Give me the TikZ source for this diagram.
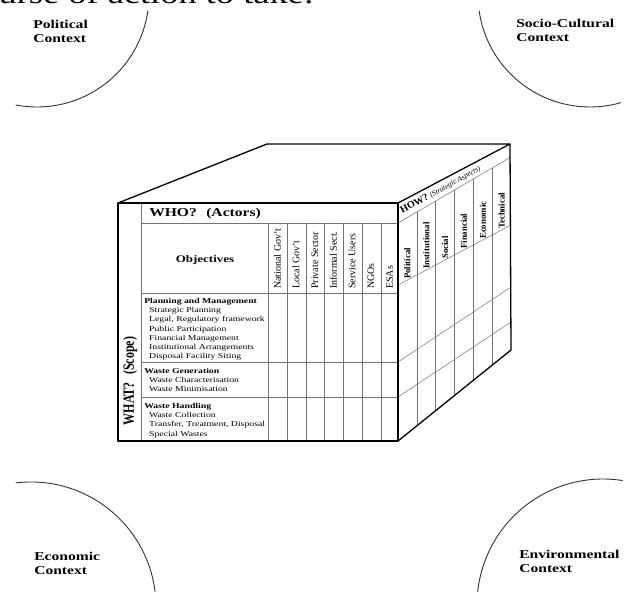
\documentclass[tikz,border=0pt]{standalone}
\usepackage{fontspec}
\setmainfont{Liberation Serif}
\usetikzlibrary{calc}

\begin{document}
\begin{tikzpicture}[x=1pt,y=1pt,line join=round,
  edge/.style={line width=1.3pt},
  grid/.style={line width=0.5pt,black!55},
  ctx/.style={font=\fontsize{12}{13.5}\selectfont\bfseries,align=left,anchor=north west,inner sep=0pt,xscale=1.3},
  actor/.style={font=\fontsize{10}{11}\selectfont,rotate=90,anchor=west,inner sep=0pt},
  aspect/.style={font=\fontsize{8.8}{9}\selectfont\bfseries,rotate=90,anchor=west,inner sep=0pt},
  scope/.style={font=\fontsize{7.5}{9.2}\selectfont,align=left,anchor=north west,inner sep=0pt,xscale=1.3}]
\useasboundingbox (0,0) rectangle (627,592);
\clip (0,0) rectangle (627,592);
%% cut-off line of the page above
\node[font=\fontsize{28}{30}\selectfont,anchor=base west,inner sep=0pt,xscale=1.3] (course) at (-36,588) {course of action to take:};
%% context arcs
\draw[line width=0.9pt,black!80] (37,597) ++(-8:112) arc[start angle=-8,end angle=-101,radius=112];
\draw[line width=0.9pt,black!80] (590,597) ++(188:112) arc[start angle=188,end angle=286,radius=112];
\draw[line width=0.9pt,black!80] (31,-15) ++(97:125) arc[start angle=97,end angle=7,radius=125];
\draw[line width=0.9pt,black!80] (603,-13) ++(81:126) arc[start angle=81,end angle=174,radius=126];
\node[ctx] (political) at (33,572) {Political\\Context};
\node[ctx] (socio) at (516,573) {Socio-Cultural\\Context};
\node[ctx] (economic) at (34,40) {Economic\\Context};
\node[ctx] (environ) at (519,42) {Environmental\\Context};
%% cube corners
\coordinate (ftl) at (118,389);
\coordinate (ftr) at (398,389);
\coordinate (fbl) at (118,151);
\coordinate (fbr) at (398,151);
\coordinate (ttl) at (267,448);
\coordinate (ttr) at (510,448);
\coordinate (sbb) at (511,242);
\coordinate (hf) at (398,369);
\coordinate (hb) at (511,435);
\coordinate (lf) at (398,307);
\coordinate (lb) at (511,367);
%% front grid
\draw[grid] (141,389) -- (141,151);
\draw[grid] (141,369) -- (398,369);
\foreach \y in {299,230,195} \draw[grid] (141,\y) -- (398,\y);
\foreach \x in {268,287,306,324,343,362,381} \draw[grid] (\x,369) -- (\x,151);
%% side grid
\draw[grid] (hf) -- (hb);
\draw[grid] (lf) -- (lb);
\draw[grid] (398,230) -- (511,305);
\draw[grid] (398,195) -- (511,270);
\foreach \i in {1,...,5} \draw[grid] ($(hf)!\i/6!(hb)$) -- ($(fbr)!\i/6!(sbb)$);
%% outline
\draw[edge] (fbl) rectangle (ftr);
\draw[edge] (ftl) -- (ttl) -- (ttr) -- (ftr);
\draw[edge] (ttr) -- (sbb) -- (fbr);
%% front texts
\node[font=\fontsize{12}{13}\selectfont\bfseries,anchor=west,inner sep=0pt,xscale=1.3] (who) at (149,378) {WHO?\hspace{0.6em}(Actors)};
\node[font=\fontsize{10}{11}\selectfont\bfseries,xscale=1.3] (obj) at (205,332) {Objectives};
\node[font=\fontsize{12}{13}\selectfont\bfseries,rotate=90,yscale=1.3] (what) at (130,211) {WHAT?\hspace{0.6em}(Scope)};
\foreach \t [count=\i] in {National Gov't,Local Gov't,Private Sector,Informal Sect.,Service Users,NGOs,ESAs}
  \node[actor] (actor\i) at (258.65+18.7*\i,303) {\t};
\node[scope] (plan) at (144,294) {\textbf{Planning and Management}\\
  \hspace*{3.8pt}Strategic Planning\\
  \hspace*{3.8pt}Legal, Regulatory framework\\
  \hspace*{3.8pt}Public Participation\\
  \hspace*{3.8pt}Financial Management\\
  \hspace*{3.8pt}Institutional Arrangements\\
  \hspace*{3.8pt}Disposal Facility Siting};
\node[scope] (gen) at (144,224) {\textbf{Waste Generation}\\
  \hspace*{3.8pt}Waste Characterisation\\
  \hspace*{3.8pt}Waste Minimisation};
\node[scope] (hand) at (144,189) {\textbf{Waste Handling}\\
  \hspace*{3.8pt}Waste Collection\\
  \hspace*{3.8pt}Transfer, Treatment, Disposal\\
  \hspace*{3.8pt}Special Wastes};
%% side texts
\node[font=\fontsize{10}{11}\selectfont\bfseries,rotate=29,anchor=west,inner sep=0pt] (how) at (401,380.5) {HOW? {\itshape\mdseries\fontsize{7.5}{8}\selectfont(Strategic Aspects)}};
\foreach \t [count=\i] in {Political,Institutional,Social,Financial,Economic,Technical}
  \node[aspect] (aspect\i) at ($(lf)!{(\i-0.5)/6}!(lb)+(0,1)$) {\t};
\end{tikzpicture}
\end{document}
